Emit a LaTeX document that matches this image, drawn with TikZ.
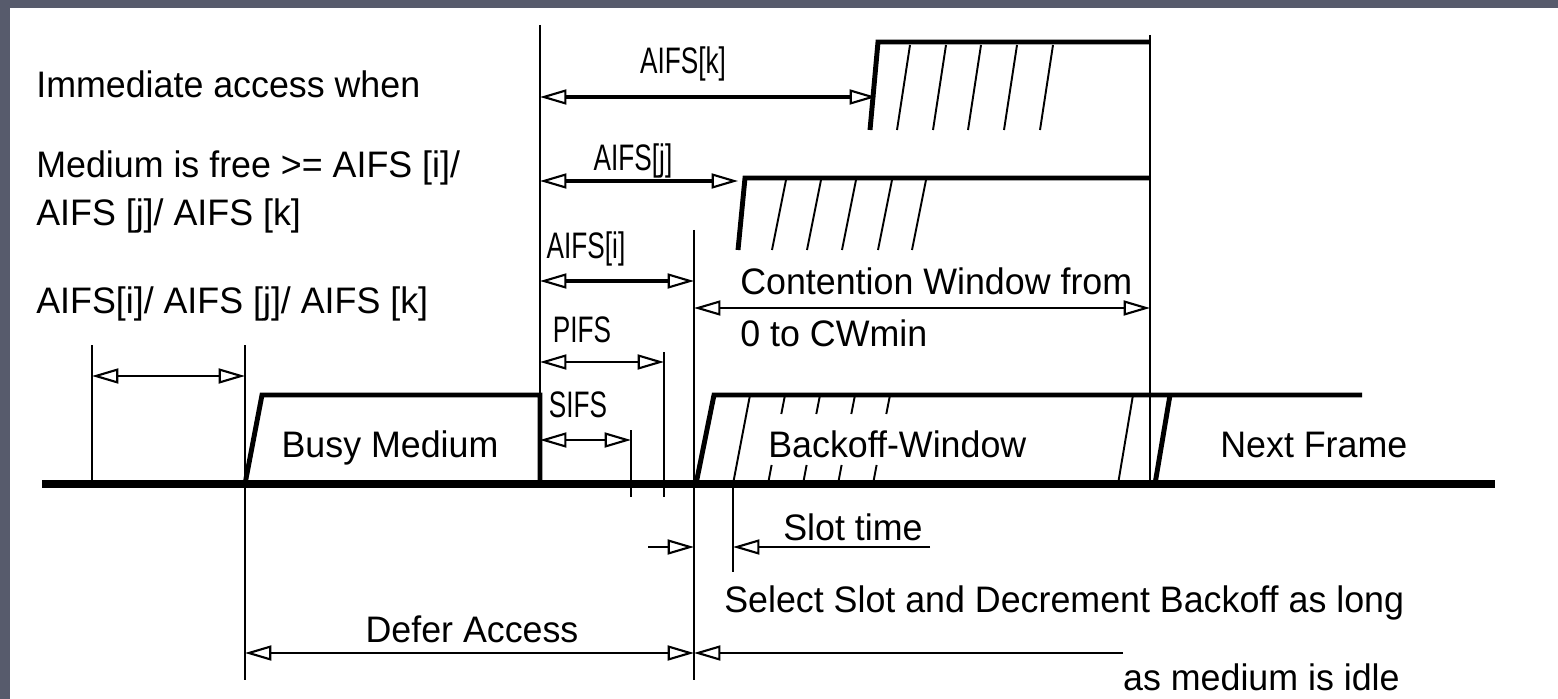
\documentclass[tikz,border=0pt]{standalone}
\usepackage{fontspec}
\setmainfont{Liberation Sans}[FakeStretch=0.97]
\newfontfamily\narrowfont{Liberation Sans}[FakeStretch=0.71]
\usetikzlibrary{arrows.meta}
\definecolor{slate}{HTML}{575B6C}
\tikzset{
  Hol/.tip={Triangle[open,length=15pt,width=8.5pt,line width=1.2pt]},
  txt/.style={font=\fontsize{21}{25}\selectfont, inner sep=0pt},
  lbl/.style={font=\narrowfont\fontsize{21}{25}\selectfont, inner sep=0pt},
  thinl/.style={line width=1.1pt},
  dimline/.style={line width=1.4pt, {Hol}-{Hol}},
  dimthick/.style={line width=2.6pt, {Hol}-{Hol}},
  stepl/.style={line width=2.8pt, line join=miter},
  hatch/.style={line width=1.1pt}
}
\begin{document}
\begin{tikzpicture}[x=0.02cm, y=-0.02cm]
    % Rahmen
    \fill[slate] (0,0) rectangle (1558,699);
    \fill[white] (10,8) rectangle (1558,699);
    \useasboundingbox (0,0) rectangle (1558,699);

    % Texte links
    \node[txt, anchor=base west] (imm) at (36,98) {Immediate access when};
    \node[txt, anchor=base west] (free) at (36,178) {Medium is free >= AIFS [i]/};
    \node[txt, anchor=base west] (free2) at (36,226) {AIFS [j]/ AIFS [k]};
    \node[txt, anchor=base west] (aifsall) at (36,313) {AIFS[i]/ AIFS [j]/ AIFS [k]};

    % Zeitachse
    \draw[line width=4.5pt] (42,484) -- (1495,484);

    % Hilfslinien
    \draw[thinl] (92,345) -- (92,484);
    \draw[thinl] (245,345) -- (245,680);
    \draw[thinl] (540,25) -- (540,484);
    \draw[thinl] (694,230) -- (694,680);
    \draw[thinl] (1150,35) -- (1150,484);
    \draw[thinl] (664,352) -- (664,497);
    \draw[thinl] (631,430) -- (631,497);
    \draw[thinl] (733,484) -- (733,572);

    % Busy Medium
    \draw[stepl] (245,484) -- (262,395) -- (540,395) -- (540,484);
    \node[txt, anchor=base] (busy) at (390,457) {Busy Medium};

    % AIFS[k]
    \draw[stepl] (870,130) -- (878,42) -- (1150,42);
    \foreach \h in {897,933,968,1004,1040}
        \draw[hatch] (\h,130) -- (\h+13,45);
    \coordinate (k0) at (540,97);
    \coordinate (k1) at (876,97);
    \draw[dimline, line width=1.8pt] (k0) -- (k1);
    \node[lbl, anchor=base] (lk) at (683,74) {AIFS[k]};

    % AIFS[j]
    \draw[stepl] (738,250) -- (745,178) -- (1150,178);
    \foreach \h in {772,807,842,878,912}
        \draw[hatch] (\h,250) -- (\h+14,180);
    \coordinate (j0) at (540,181);
    \coordinate (j1) at (738,181);
    \draw[dimthick] (j0) -- (j1);
    \node[lbl, anchor=base] (lj) at (633,171) {AIFS[j]};

    % AIFS[i]
    \coordinate (i0) at (540,281);
    \coordinate (i1) at (694,281);
    \draw[dimthick] (i0) -- (i1);
    \node[lbl, anchor=base] (li) at (586,258) {AIFS[i]};

    % Contention Window
    \coordinate (c0) at (694,308);
    \coordinate (c1) at (1150,308);
    \draw[dimline] (c0) -- (c1);
    \node[txt, anchor=base west] (cw) at (740,295) {Contention Window from};
    \node[txt, anchor=base west] (cw2) at (740,346) {0 to CWmin};

    % PIFS / SIFS
    \coordinate (p0) at (540,362);
    \coordinate (p1) at (664,362);
    \draw[dimline] (p0) -- (p1);
    \node[lbl, anchor=base] (lp) at (582,342) {PIFS};
    \coordinate (s0) at (540,440);
    \coordinate (s1) at (631,440);
    \draw[dimline] (s0) -- (s1);
    \node[lbl, anchor=base] (ls) at (578,417) {SIFS};

    % links AIFS
    \coordinate (a0) at (92,376);
    \coordinate (a1) at (245,376);
    \draw[dimline] (a0) -- (a1);

    % Backoff-Window und Next Frame
    \draw[stepl] (696,484) -- (714,395) -- (1362,395);
    \draw[hatch] (733,484) -- (750,395);
    \foreach \h in {768,803,838,873} {
        \draw[hatch] (\h,484) -- (\h+3.6,465);
        \draw[hatch] (\h+13.3,414) -- (\h+17,395);
    }
    \draw[hatch] (1118,484) -- (1133,395);
    \draw[stepl] (1155,484) -- (1170,395);
    \node[txt, anchor=base west] (bw) at (768,457) {Backoff-Window};
    \node[txt, anchor=base west] (nf) at (1220,457) {Next Frame};

    % Slot time
    \coordinate (t0) at (648,547);
    \coordinate (t1) at (694,547);
    \coordinate (t2) at (930,547);
    \coordinate (t3) at (733,547);
    \draw[line width=1.4pt, -{Hol}] (t0) -- (t1);
    \draw[line width=1.4pt, -{Hol}] (t2) -- (t3);
    \node[txt, anchor=base west] (slot) at (783,540) {Slot time};

    % Defer Access / Select Slot
    \coordinate (d0) at (245,653);
    \coordinate (d1) at (694,653);
    \coordinate (d2) at (1123,653);
    \draw[dimline] (d0) -- (d1);
    \draw[line width=1.4pt, -{Hol}] (d2) -- (d1);
    \node[txt, anchor=base] (defer) at (472,642) {Defer Access};
    \node[txt, anchor=base west] (sel) at (724,612) {Select Slot and Decrement Backoff as long};
    \node[txt, anchor=base east] (idle) at (1400,690) {as medium is idle};
\end{tikzpicture}
\end{document}
